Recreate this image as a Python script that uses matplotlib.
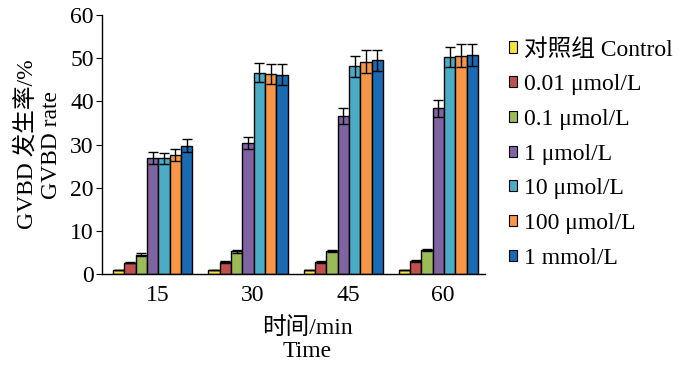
import numpy as np
import matplotlib
matplotlib.use("Agg")
import matplotlib.pyplot as plt

plt.rcParams['font.family'] = ['Liberation Serif', 'Noto Sans CJK SC']

times = ["15", "30", "45", "60"]
groups = ["对照组 Control", "0.01 μmol/L", "0.1 μmol/L", "1 μmol/L",
          "10 μmol/L", "100 μmol/L", "1 mmol/L"]
colors = ["#f2e53a", "#c0504d", "#9bbb59", "#8064a2",
          "#4bacc6", "#f79646", "#1a6ab4"]

control = [1.0, 1.0, 1.0, 1.0]
c001 = [2.7, 2.9, 2.9, 3.0]
c01 = [4.5, 5.3, 5.4, 5.6]
c1 = [26.9, 30.4, 36.6, 38.4]
c10 = [26.8, 46.6, 48.1, 50.2]
c100 = [27.5, 46.4, 49.2, 50.6]
c1mm = [29.7, 46.2, 49.5, 50.7]

err_control = [0.0, 0.0, 0.0, 0.0]
err_001 = [0.2, 0.2, 0.2, 0.2]
err_01 = [0.3, 0.3, 0.3, 0.3]
err_1 = [1.3, 1.4, 1.8, 2.0]
err_10 = [1.2, 2.2, 2.4, 2.3]
err_100 = [1.4, 2.3, 2.6, 2.7]
err_1mm = [1.5, 2.4, 2.5, 2.6]

series = [control, c001, c01, c1, c10, c100, c1mm]
errors = [err_control, err_001, err_01, err_1, err_10, err_100, err_1mm]

fig = plt.figure(figsize=(7, 3.68), dpi=100)
ax = fig.add_axes([0.146, 0.255, 0.547, 0.704])

x = np.arange(len(times))
w = 0.119
for i, (vals, errs) in enumerate(zip(series, errors)):
    pos = x + (i - 3) * w
    ax.bar(pos, vals, w, color=colors[i], edgecolor="black", linewidth=1.0,
           label=groups[i], zorder=2)
    ax.errorbar(pos, vals, yerr=errs, fmt="none", ecolor="black",
                elinewidth=1.0, capsize=3.5, capthick=1.0, zorder=3)

ax.set_xlim(-0.53, 3.49)
ax.set_ylim(0, 60)
ax.set_yticks(range(0, 61, 10))
ax.set_xticks(x + 0.05)
ax.set_xticklabels(times)
ax.tick_params(axis="x", length=0, labelsize=17, pad=8)
ax.tick_params(axis="y", direction="out", length=4, labelsize=17, pad=2)
for s in ["top", "right"]:
    ax.spines[s].set_visible(False)
ax.spines["left"].set_linewidth(1.0)
ax.spines["bottom"].set_linewidth(1.0)

ax.set_ylabel("GVBD 发生率/%\nGVBD rate", fontsize=17, linespacing=1.2,
              labelpad=6)
ax.set_xlabel("时间/min\nTime", fontsize=17, linespacing=1.15)
ax.xaxis.set_label_coords(0.535, -0.165, transform=ax.transAxes)
ax.xaxis.label.set_va("top")

leg = ax.legend(loc="upper left", bbox_to_anchor=(1.0, 1.0),
                frameon=False, fontsize=17, handlelength=0.35,
                handleheight=0.35, handletextpad=0.3, labelspacing=0.58,
                borderaxespad=0.6)
for h in leg.legend_handles:
    h.set_linewidth(0.8)

fig.savefig("out.png", dpi=100)
